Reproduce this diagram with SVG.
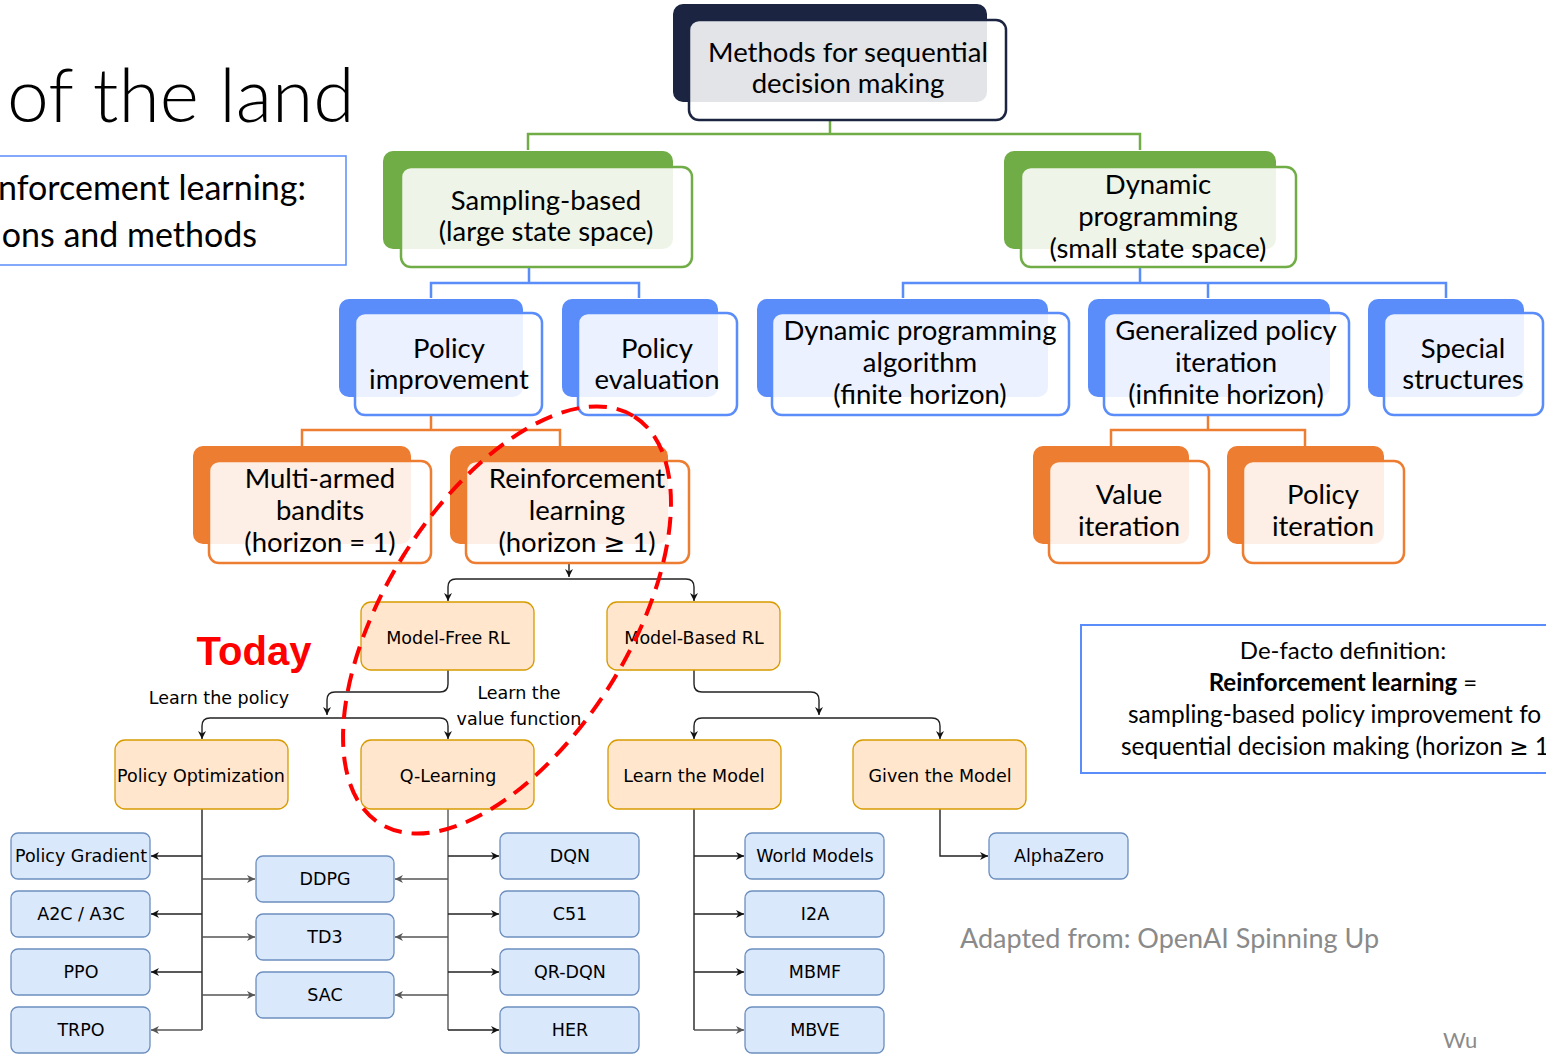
<svg xmlns="http://www.w3.org/2000/svg" width="1546" height="1056" viewBox="0 0 1546 1056">
<defs>
<style>
.fr{fill:#ffffff;fill-opacity:0.88;stroke-width:2.5}
.st{font-family:Lato,"Liberation Sans",sans-serif;font-size:27.5px;text-anchor:middle;fill:#000}
.ge{font-family:"DejaVu Sans",sans-serif;font-size:26px}
.dt{font-family:"DejaVu Sans",Verdana,sans-serif;font-size:17.5px;text-anchor:middle;fill:#000}
.o{fill:#ffe6cc;stroke:#d79b00;stroke-width:1.3}
.b{fill:#dae8fc;stroke:#6c8ebf;stroke-width:1.3}
.e{fill:none;stroke:#222;stroke-width:1.4}
.eg{fill:none;stroke:#555;stroke-width:1.4}
.gl{fill:none;stroke:#70ad47;stroke-width:2.5}
.bl{fill:none;stroke:#5a8dfa;stroke-width:2.5}
.ol{fill:none;stroke:#ed7d31;stroke-width:2.5}
</style>
<marker id="ar" viewBox="0 0 10 10" refX="10" refY="5" markerWidth="8" markerHeight="8" markerUnits="userSpaceOnUse" orient="auto">
<path d="M0,0 L10,5 L0,10 L3,5 z" fill="#111"/>
</marker>
<marker id="arg" viewBox="0 0 10 10" refX="10" refY="5" markerWidth="8" markerHeight="8" markerUnits="userSpaceOnUse" orient="auto">
<path d="M0,0 L10,5 L0,10 L3,5 z" fill="#555"/>
</marker>
</defs>
<rect width="1546" height="1056" fill="#ffffff"/>

<!-- title area -->
<g id="title">
<text x="7" y="122" font-family="Lato,'Liberation Sans',sans-serif" font-size="75" font-weight="300" fill="#000">of the land</text>
</g>
<g id="subtitle">
<rect x="-2" y="156" width="348" height="109" fill="none" stroke="#5a8dfa" stroke-width="1.5"/>
<text x="306" y="200" font-family="Lato,'Liberation Sans',sans-serif" font-size="34" text-anchor="end" fill="#000">nforcement learning:</text>
<text x="257" y="247" font-family="Lato,'Liberation Sans',sans-serif" font-size="34" text-anchor="end" fill="#000">ons and methods</text>
</g>

<!-- connectors -->
<g id="connectors">
<path class="gl" d="M830,120 V134 M528,150 V134 H1140 V150"/>
<path class="bl" d="M529,268 V283 M431,298 V283 H639 V298"/>
<path class="bl" d="M1140,268 V283 M903,298 V283 H1446 V298 M1208,283 V298"/>
<path class="ol" d="M431,415 V430 M302,446 V430 H560 V446"/>
<path class="ol" d="M1208,415 V430 M1111,446 V430 H1305 V446"/>

<path class="e" d="M569,563 V577" marker-end="url(#ar)"/>
<path class="e" d="M569,579 H456 Q448,579 448,587 V601" marker-end="url(#ar)"/>
<path class="e" d="M569,579 H686 Q694,579 694,587 V601" marker-end="url(#ar)"/>

<path class="e" d="M448,670 V684 Q448,692 440,692 H335 Q327,692 327,700 V715" marker-end="url(#ar)"/>
<path class="e" d="M327,718 H210 Q202,718 202,726 V739" marker-end="url(#ar)"/>
<path class="e" d="M327,718 H440 Q448,718 448,726 V739" marker-end="url(#ar)"/>
<path class="e" d="M694,670 V684 Q694,692 702,692 H811 Q819,692 819,700 V715" marker-end="url(#ar)"/>
<path class="e" d="M819,718 H702 Q694,718 694,726 V739" marker-end="url(#ar)"/>
<path class="e" d="M819,718 H932 Q940,718 940,726 V739" marker-end="url(#ar)"/>

<path class="e" d="M202,809 V1030"/>
<path class="e" d="M202,856 H151" marker-end="url(#ar)"/>
<path class="e" d="M202,914 H151" marker-end="url(#ar)"/>
<path class="e" d="M202,972 H151" marker-end="url(#ar)"/>
<path class="eg" d="M202,1030 H151" marker-end="url(#arg)"/>
<path class="eg" d="M202,879 H255" marker-end="url(#arg)"/>
<path class="eg" d="M202,937 H255" marker-end="url(#arg)"/>
<path class="eg" d="M202,995 H255" marker-end="url(#arg)"/>

<path class="eg" d="M448,809 V1030"/>
<path class="e" d="M448,856 H499" marker-end="url(#ar)"/>
<path class="e" d="M448,914 H499" marker-end="url(#ar)"/>
<path class="e" d="M448,972 H499" marker-end="url(#ar)"/>
<path class="e" d="M448,1030 H499" marker-end="url(#ar)"/>
<path class="eg" d="M448,879 H395" marker-end="url(#arg)"/>
<path class="eg" d="M448,937 H395" marker-end="url(#arg)"/>
<path class="eg" d="M448,995 H395" marker-end="url(#arg)"/>

<path class="e" d="M694,809 V1030"/>
<path class="e" d="M694,856 H744" marker-end="url(#ar)"/>
<path class="e" d="M694,914 H744" marker-end="url(#ar)"/>
<path class="e" d="M694,972 H744" marker-end="url(#ar)"/>
<path class="eg" d="M694,1030 H744" marker-end="url(#arg)"/>

<path class="e" d="M940,809 V856 H988" marker-end="url(#ar)"/>
</g>

<!-- SmartArt nodes -->
<g id="n-methods">
<rect x="673" y="4" width="314" height="98" rx="10" fill="#1b2541"/>
<rect class="fr" x="689" y="20" width="317" height="100" rx="10" stroke="#1b2541"/>
<text class="st" x="848" y="62">Methods for sequential</text>
<text class="st" x="848" y="93">decision making</text>
</g>
<g id="n-sampling">
<rect x="383" y="151" width="290" height="98" rx="10" fill="#70ad47"/>
<rect class="fr" x="401" y="167" width="291" height="100" rx="10" stroke="#70ad47"/>
<text class="st" x="546" y="210">Sampling-based</text>
<text class="st" x="546" y="241">(large state space)</text>
</g>
<g id="n-dynamic">
<rect x="1004" y="151" width="272" height="98" rx="10" fill="#70ad47"/>
<rect class="fr" x="1021" y="167" width="275" height="100" rx="10" stroke="#70ad47"/>
<text class="st" x="1158" y="194">Dynamic</text>
<text class="st" x="1158" y="226">programming</text>
<text class="st" x="1158" y="258">(small state space)</text>
</g>
<g id="n-polimp">
<rect x="339" y="299" width="184" height="98" rx="10" fill="#5a8dfa"/>
<rect class="fr" x="355" y="313" width="187" height="102" rx="10" stroke="#5a8dfa"/>
<text class="st" x="449" y="358">Policy</text>
<text class="st" x="449" y="389">improvement</text>
</g>
<g id="n-poleval">
<rect x="562" y="299" width="156" height="98" rx="10" fill="#5a8dfa"/>
<rect class="fr" x="578" y="313" width="159" height="102" rx="10" stroke="#5a8dfa"/>
<text class="st" x="657" y="358">Policy</text>
<text class="st" x="657" y="389">evaluation</text>
</g>
<g id="n-dpalg">
<rect x="757" y="299" width="291" height="98" rx="10" fill="#5a8dfa"/>
<rect class="fr" x="772" y="313" width="297" height="102" rx="10" stroke="#5a8dfa"/>
<text class="st" x="920" y="340">Dynamic programming</text>
<text class="st" x="920" y="372">algorithm</text>
<text class="st" x="920" y="404">(finite horizon)</text>
</g>
<g id="n-gpi">
<rect x="1088" y="299" width="242" height="98" rx="10" fill="#5a8dfa"/>
<rect class="fr" x="1104" y="313" width="245" height="102" rx="10" stroke="#5a8dfa"/>
<text class="st" x="1226" y="340">Generalized policy</text>
<text class="st" x="1226" y="372">iteration</text>
<text class="st" x="1226" y="404">(infinite horizon)</text>
</g>
<g id="n-special">
<rect x="1368" y="299" width="156" height="98" rx="10" fill="#5a8dfa"/>
<rect class="fr" x="1384" y="313" width="159" height="102" rx="10" stroke="#5a8dfa"/>
<text class="st" x="1463" y="358">Special</text>
<text class="st" x="1463" y="389">structures</text>
</g>
<g id="n-bandits">
<rect x="193" y="446" width="218" height="98" rx="10" fill="#ed7d31"/>
<rect class="fr" x="209" y="461" width="222" height="102" rx="10" stroke="#ed7d31"/>
<text class="st" x="320" y="488">Multi-armed</text>
<text class="st" x="320" y="520">bandits</text>
<text class="st" x="320" y="552">(horizon = 1)</text>
</g>
<g id="n-rl">
<rect x="450" y="446" width="218" height="98" rx="10" fill="#ed7d31"/>
<rect class="fr" x="466" y="461" width="223" height="102" rx="10" stroke="#ed7d31"/>
<text class="st" x="577" y="488">Reinforcement</text>
<text class="st" x="577" y="520">learning</text>
<text class="st" x="577" y="552">(horizon <tspan class="ge">≥</tspan> 1)</text>
</g>
<g id="n-vi">
<rect x="1033" y="446" width="156" height="98" rx="10" fill="#ed7d31"/>
<rect class="fr" x="1049" y="461" width="160" height="102" rx="10" stroke="#ed7d31"/>
<text class="st" x="1129" y="504">Value</text>
<text class="st" x="1129" y="536">iteration</text>
</g>
<g id="n-pi">
<rect x="1227" y="446" width="157" height="98" rx="10" fill="#ed7d31"/>
<rect class="fr" x="1243" y="461" width="161" height="102" rx="10" stroke="#ed7d31"/>
<text class="st" x="1323" y="504">Policy</text>
<text class="st" x="1323" y="536">iteration</text>
</g>

<!-- draw.io taxonomy nodes -->
<g id="n-mfrl"><rect class="o" x="361" y="602" width="173" height="68" rx="10"/><text class="dt" x="448" y="644">Model-Free RL</text></g>
<g id="n-mbrl"><rect class="o" x="607" y="602" width="173" height="68" rx="10"/><text class="dt" x="694" y="644">Model-Based RL</text></g>
<g id="n-po"><rect class="o" x="115" y="740" width="173" height="69" rx="10"/><text class="dt" x="201" y="782" font-size="16.8">Policy Optimization</text></g>
<g id="n-ql"><rect class="o" x="361" y="740" width="173" height="69" rx="10"/><text class="dt" x="448" y="782">Q-Learning</text></g>
<g id="n-ltm"><rect class="o" x="608" y="740" width="173" height="69" rx="10"/><text class="dt" x="694" y="782">Learn the Model</text></g>
<g id="n-gtm"><rect class="o" x="853" y="740" width="173" height="69" rx="10"/><text class="dt" x="940" y="782">Given the Model</text></g>

<g id="n-pg"><rect class="b" x="11" y="833" width="139" height="46" rx="7"/><text class="dt" x="81" y="862" font-size="16.8">Policy Gradient</text></g>
<g id="n-a2c"><rect class="b" x="11" y="891" width="139" height="46" rx="7"/><text class="dt" x="81" y="920">A2C / A3C</text></g>
<g id="n-ppo"><rect class="b" x="11" y="949" width="139" height="46" rx="7"/><text class="dt" x="81" y="978">PPO</text></g>
<g id="n-trpo"><rect class="b" x="11" y="1007" width="139" height="46" rx="7"/><text class="dt" x="81" y="1036">TRPO</text></g>
<g id="n-ddpg"><rect class="b" x="256" y="856" width="138" height="46" rx="7"/><text class="dt" x="325" y="885">DDPG</text></g>
<g id="n-td3"><rect class="b" x="256" y="914" width="138" height="46" rx="7"/><text class="dt" x="325" y="943">TD3</text></g>
<g id="n-sac"><rect class="b" x="256" y="972" width="138" height="46" rx="7"/><text class="dt" x="325" y="1001">SAC</text></g>
<g id="n-dqn"><rect class="b" x="500" y="833" width="139" height="46" rx="7"/><text class="dt" x="570" y="862">DQN</text></g>
<g id="n-c51"><rect class="b" x="500" y="891" width="139" height="46" rx="7"/><text class="dt" x="570" y="920">C51</text></g>
<g id="n-qrdqn"><rect class="b" x="500" y="949" width="139" height="46" rx="7"/><text class="dt" x="570" y="978">QR-DQN</text></g>
<g id="n-her"><rect class="b" x="500" y="1007" width="139" height="46" rx="7"/><text class="dt" x="570" y="1036">HER</text></g>
<g id="n-wm"><rect class="b" x="745" y="833" width="139" height="46" rx="7"/><text class="dt" x="815" y="862">World Models</text></g>
<g id="n-i2a"><rect class="b" x="745" y="891" width="139" height="46" rx="7"/><text class="dt" x="815" y="920">I2A</text></g>
<g id="n-mbmf"><rect class="b" x="745" y="949" width="139" height="46" rx="7"/><text class="dt" x="815" y="978">MBMF</text></g>
<g id="n-mbve"><rect class="b" x="745" y="1007" width="139" height="46" rx="7"/><text class="dt" x="815" y="1036">MBVE</text></g>
<g id="n-az"><rect class="b" x="989" y="833" width="139" height="46" rx="7"/><text class="dt" x="1059" y="862">AlphaZero</text></g>

<!-- labels -->
<g id="labels">
<text class="dt" x="219" y="704" font-size="17">Learn the policy</text>
<text class="dt" x="519" y="699" font-size="17">Learn the</text>
<text class="dt" x="519" y="725" font-size="17">value function</text>
<text x="254" y="665" font-family="'Liberation Sans',Arial,sans-serif" font-size="40" font-weight="bold" fill="#ff0000" text-anchor="middle">Today</text>
</g>

<!-- definition box -->
<g id="definition">
<rect x="1081" y="625" width="470" height="148" fill="none" stroke="#5a8dfa" stroke-width="2"/>
<text x="1343" y="659" font-family="Lato,'Liberation Sans',sans-serif" font-size="24" text-anchor="middle" fill="#000">De-facto definition:</text>
<text x="1343" y="691" font-family="Lato,'Liberation Sans',sans-serif" font-size="24" text-anchor="middle" fill="#000"><tspan font-weight="bold">Reinforcement learning</tspan> =</text>
<text x="1128" y="723" font-family="Lato,'Liberation Sans',sans-serif" font-size="24.5" fill="#000">sampling-based policy improvement fo</text>
<text x="1121" y="755" font-family="Lato,'Liberation Sans',sans-serif" font-size="24.5" fill="#000">sequential decision making (horizon <tspan font-family="'DejaVu Sans',sans-serif" font-size="23">≥</tspan> 1</text>
</g>

<g id="credits">
<text x="960" y="948" font-family="Lato,'Liberation Sans',sans-serif" font-size="27" fill="#8a8a8a">Adapted from: OpenAI Spinning Up</text>
<text x="1443" y="1048" font-family="Lato,'Liberation Sans',sans-serif" font-size="22" fill="#8a8a8a">Wu</text>
</g>

<!-- red dashed highlight -->
<ellipse cx="507" cy="620" rx="240" ry="122" transform="rotate(-58 507 620)" fill="none" stroke="#ff0000" stroke-width="4" stroke-dasharray="18 10"/>
</svg>
